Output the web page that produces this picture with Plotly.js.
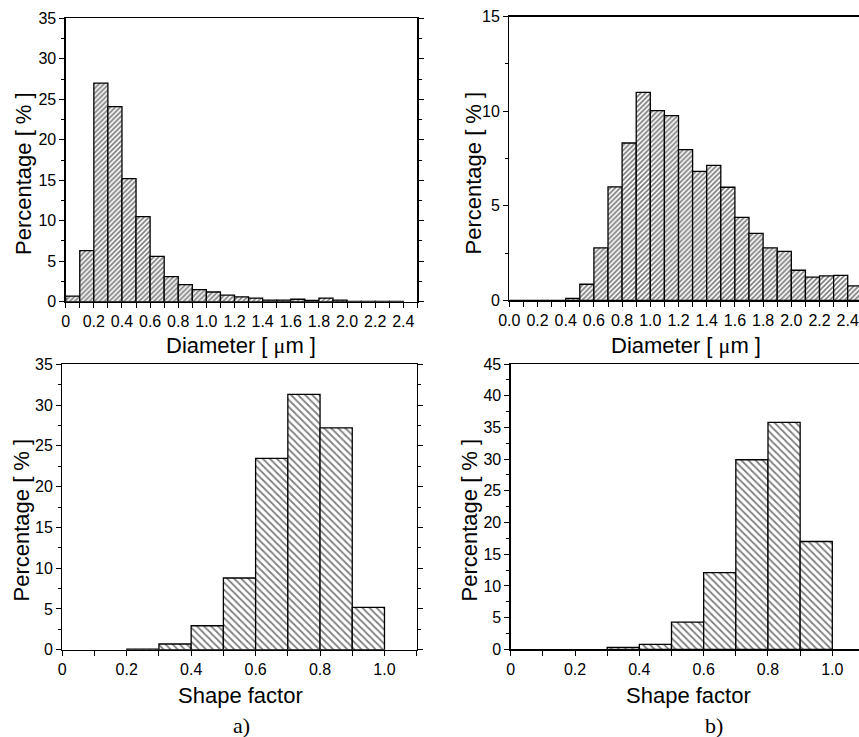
<!DOCTYPE html>
<html>
<head>
<meta charset="utf-8">
<script src="https://cdn.plot.ly/plotly-3.0.1.min.js"></script>
<style>html,body{margin:0;padding:0;background:#fff;}#chart{width:859px;height:737px;}</style>
</head>
<body>
<div id="chart"></div>
<script>
// ---- Data (bin start, percentage) ----
const diamA_bins = [0.0,0.1,0.2,0.3,0.4,0.5,0.6,0.7,0.8,0.9,1.0,1.1,1.2,1.3,1.4,1.5,1.6,1.7,1.8,1.9,2.0,2.1,2.2,2.3];
const diamA_pct  = [0.7,6.3,27.0,24.1,15.2,10.5,5.6,3.1,2.1,1.5,1.2,0.8,0.6,0.45,0.2,0.2,0.3,0.15,0.45,0.2,0.05,0.05,0.05,0.05];

const diamB_bins = [0.0,0.1,0.2,0.3,0.4,0.5,0.6,0.7,0.8,0.9,1.0,1.1,1.2,1.3,1.4,1.5,1.6,1.7,1.8,1.9,2.0,2.1,2.2,2.3,2.4];
const diamB_pct  = [0,0,0,0,0.1,0.85,2.77,6.0,8.32,11.0,10.03,9.77,7.97,6.82,7.14,5.98,4.39,3.54,2.77,2.59,1.59,1.23,1.29,1.32,0.76];

const shapeA_bins = [0.2,0.3,0.4,0.5,0.6,0.7,0.8,0.9];
const shapeA_pct  = [0.08,0.7,2.94,8.79,23.47,31.3,27.2,5.19];

const shapeB_bins = [0.3,0.4,0.5,0.6,0.7,0.8,0.9];
const shapeB_pct  = [0.3,0.79,4.3,12.1,29.9,35.8,17.0];

const binWidth = 0.1;

// ---- Tick labels ----
const diamA_tickvals = [0,0.2,0.4,0.6,0.8,1.0,1.2,1.4,1.6,1.8,2.0,2.2,2.4];
const diamA_ticktext = ['0','0.2','0.4','0.6','0.8','1.0','1.2','1.4','1.6','1.8','2.0','2.2','2.4'];
const diamB_tickvals = [0,0.2,0.4,0.6,0.8,1.0,1.2,1.4,1.6,1.8,2.0,2.2,2.4];
const diamB_ticktext = ['0.0','0.2','0.4','0.6','0.8','1.0','1.2','1.4','1.6','1.8','2.0','2.2','2.4'];
const shape_tickvals = [0,0.2,0.4,0.6,0.8,1.0];
const shape_ticktext = ['0','0.2','0.4','0.6','0.8','1.0'];

const yTitle = 'Percentage [ % ]';
const diamTitle = 'Diameter [ <span style="font-family:\'Liberation Serif\'">\u03bc</span>m ]';
const shapeTitle = 'Shape factor';
const panelLabels = ['a)', 'b)'];

// ---- Traces ----
const W = 859, H = 737;
function barTrace(bins, vals, xa, ya, shape, size, solidity) {
  return {
    type: 'bar', x: bins, y: vals, width: binWidth, offset: 0,
    xaxis: xa, yaxis: ya, showlegend: false, hoverinfo: 'x+y',
    marker: {
      color: '#ffffff',
      line: {color: '#000', width: 1.3},
      pattern: {shape: shape, size: size, solidity: solidity, fgcolor: '#000', bgcolor: '#fff', fillmode: 'overlay'}
    }
  };
}
const data = [
  barTrace(diamA_bins, diamA_pct, 'x', 'y', '/', 3.5, 0.5),
  barTrace(diamB_bins, diamB_pct, 'x2', 'y2', '/', 3.5, 0.5),
  barTrace(shapeA_bins, shapeA_pct, 'x3', 'y3', '\\', 5, 0.35),
  barTrace(shapeB_bins, shapeB_pct, 'x4', 'y4', '\\', 5, 0.35)
];

const tickFont = {family: 'Liberation Sans, Arial, sans-serif', size: 16, color: '#000'};
function px2x(p) { return p / W; }
function px2y(p) { return 1 - p / H; }

function xAxis(dom, range, tv, tt, anchor, mirror) {
  return {
    domain: [px2x(dom[0]), Math.min(1, px2x(dom[1]))], range: range, anchor: anchor,
    showgrid: false, zeroline: false, showline: true, linecolor: '#000', linewidth: 1.3, mirror: mirror,
    ticks: 'outside', ticklen: 5, tickwidth: 1, tickcolor: '#000',
    tickmode: 'array', tickvals: tv, ticktext: tt, tickfont: tickFont,
    minor: {dtick: 0.1, tick0: 0, ticks: 'outside', ticklen: 5, tickwidth: 1, tickcolor: '#000', showgrid: false},
    fixedrange: true
  };
}
function yAxis(dom, range, anchor, mirror) {
  return {
    domain: [px2y(dom[1]), px2y(dom[0])], range: range, anchor: anchor,
    showgrid: false, zeroline: false, showline: true, linecolor: '#000', linewidth: 1.3, mirror: mirror,
    ticks: 'outside', ticklen: 5, tickwidth: 1, tickcolor: '#000',
    tickmode: 'linear', tick0: 0, dtick: 5, tickfont: tickFont,
    minor: {dtick: 2.5, tick0: 0, ticks: 'outside', ticklen: 3, tickwidth: 1, tickcolor: '#000', showgrid: false},
    fixedrange: true
  };
}

const titleFont = {family: 'Liberation Sans, Arial, sans-serif', size: 22, color: '#000'};
const labFont = {family: 'Liberation Serif, Times New Roman, serif', size: 22, color: '#000'};
function ann(text, xp, yp, angle, font) {
  return {text: text, xref: 'paper', yref: 'paper', x: px2x(xp), y: px2y(yp),
          xanchor: 'center', yanchor: 'middle', showarrow: false, textangle: angle, font: font};
}

const layout = {
  width: W, height: H,
  margin: {l: 0, r: 0, t: 0, b: 0},
  paper_bgcolor: '#fff', plot_bgcolor: '#fff',
  bargap: 0, showlegend: false,
  xaxis:  xAxis([65.7, 417.4], [0, 2.5], diamA_tickvals, diamA_ticktext, 'y', true),
  yaxis:  yAxis([18.3, 301.7], [0, 35], 'x', 'ticks'),
  xaxis2: xAxis([509.3, 859], [0, 2.48], diamB_tickvals, diamB_ticktext, 'y2', true),
  yaxis2: yAxis([16.7, 300.3], [0, 15], 'x2', false),
  xaxis3: xAxis([62.3, 416.7], [0, 1.1], shape_tickvals, shape_ticktext, 'y3', true),
  yaxis3: yAxis([364.3, 649.7], [0, 35], 'x3', 'ticks'),
  xaxis4: xAxis([510.7, 859], [0, 1.083], shape_tickvals, shape_ticktext, 'y4', true),
  yaxis4: yAxis([364, 649.3], [0, 45], 'x4', false),
  annotations: [
    ann(yTitle, 23, 174, -90, titleFont),
    ann(yTitle, 473, 172.5, -90, titleFont),
    ann(yTitle, 21, 520.5, -90, titleFont),
    ann(yTitle, 469, 520.5, -90, titleFont),
    ann(diamTitle, 241, 345, 0, titleFont),
    ann(diamTitle, 686, 345, 0, titleFont),
    ann(shapeTitle, 240, 695, 0, titleFont),
    ann(shapeTitle, 688, 695, 0, titleFont),
    ann(panelLabels[0], 241, 725, 0, labFont),
    ann(panelLabels[1], 714, 725, 0, labFont)
  ]
};

Plotly.newPlot('chart', data, layout, {staticPlot: true, displayModeBar: false});
</script>
</body>
</html>
